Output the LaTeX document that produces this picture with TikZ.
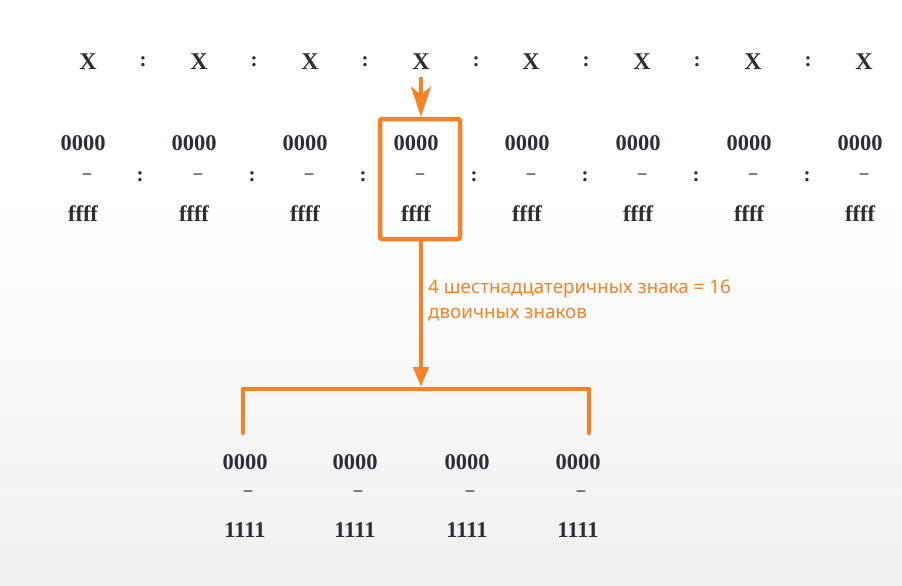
\documentclass[tikz,border=0pt]{standalone}
\usepackage{fontspec}
\setmainfont{Liberation Serif}
\newfontfamily\labelfont{Noto Sans}
\usetikzlibrary{arrows.meta}
\definecolor{org}{RGB}{245,130,38}
\definecolor{txt}{RGB}{45,45,55}
\begin{document}
\begin{tikzpicture}[x=1pt,y=-1pt,
  big/.style={font=\fontsize{24}{26}\selectfont\bfseries, text=txt, inner sep=0pt},
  num/.style={font=\fontsize{22.5}{24}\selectfont\bfseries, text=txt, inner sep=0pt},
  dsh/.style={font=\fontsize{17}{18}\selectfont\bfseries, text=txt, inner sep=0pt},
  col/.style={font=\fontsize{21}{22}\selectfont\bfseries, text=txt, inner sep=0pt},
  oline/.style={draw=org, line width=4.5pt},
  lbl/.style={font=\labelfont\fontsize{18.8}{25}\selectfont, text=org, align=left, inner sep=0pt, anchor=west}]
\useasboundingbox (0,0) rectangle (902,586);
\fill[white] (0,0) rectangle (902,200);
\shade[top color=white, bottom color=black!6] (0,200) rectangle (902,586);
% top row
\foreach \i/\x in {1/88,2/199,3/310,4/421,5/531,6/642,7/753,8/864}
  \node[big] (x\i) at (\x,62) {X};
\foreach \i/\x in {1/143,2/254,3/365,4/476,5/586,6/697,7/808}
  \node[col] (c\i) at (\x,62) {:};
% second row
\foreach \i/\x in {1/83,2/194,3/305,4/416,5/527,6/638,7/749,8/860}{
  \node[num] (z\i) at (\x,143) {0000};
  \node[dsh] (d\i) at (\x+4,176) {–};
  \node[num] (f\i) at (\x,214) {ffff};
}
\foreach \i/\x in {1/140,2/252,3/363,4/474,5/585,6/696,7/807}
  \node[col] (k\i) at (\x,177) {:};
% highlight box
\node[draw=org, line width=4.5pt, rounded corners=2pt, minimum width=80pt, minimum height=120pt, inner sep=0pt] (box) at (420,179) {};
\coordinate (top) at (421,77);
\draw[oline, -{Stealth[length=30pt,width=20pt,inset=8pt]}] (top) -- (box.north -| top);
% down line
\coordinate (br) at (421,387);
\draw[oline, -{Triangle[length=20pt,width=15pt]}] (box.south -| br) -- (br);
\node[lbl] (lab) at (428,301) {4 шестнадцатеричных знака = 16\\двоичных знаков};
% bracket
\coordinate (bl) at (243,433);
\coordinate (brr) at (589,433);
\draw[oline, line cap=round, line join=round] (bl) -- (243,389) -- (589,389) -- (brr);
% bottom row
\foreach \i/\x in {1/245,2/355,3/467,4/578}{
  \node[num] (b\i) at (\x,462) {0000};
  \node[dsh] (e\i) at (\x+3,493) {–};
  \node[num] (o\i) at (\x,530) {1111};
}
\end{tikzpicture}
\end{document}
